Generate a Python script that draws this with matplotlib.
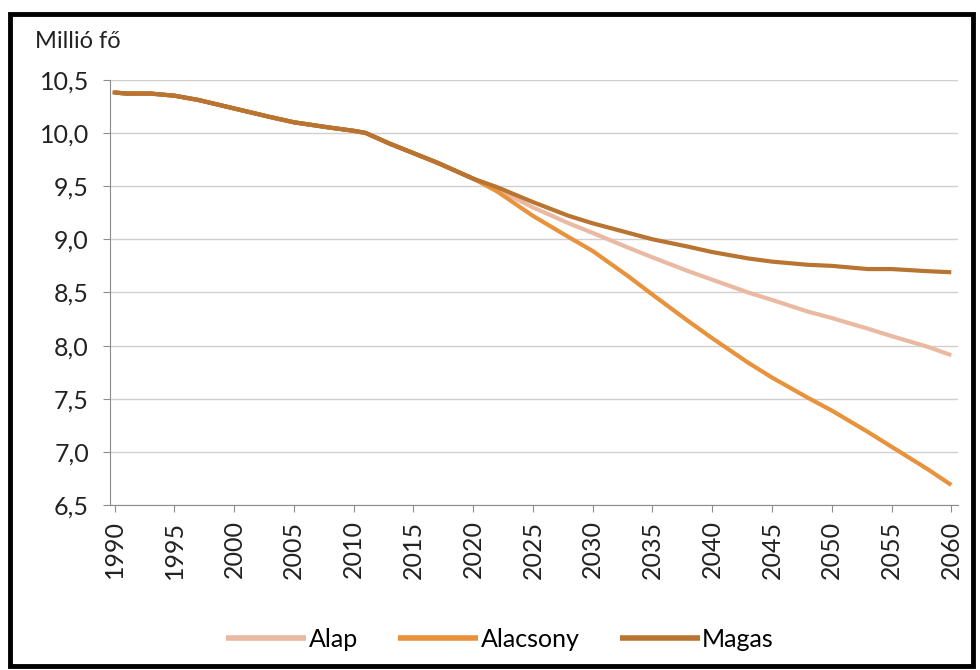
import matplotlib
matplotlib.use("Agg")
import matplotlib.pyplot as plt
from matplotlib.patches import Rectangle
from matplotlib.ticker import FuncFormatter

plt.rcParams["font.family"] = ["Lato", "DejaVu Sans"]

# common history 1990-2020
hist_years = [1990, 1991, 1993, 1995, 1997, 2000, 2003, 2005, 2008, 2010, 2011, 2013, 2015, 2017, 2020]
hist_vals = [10.38, 10.37, 10.37, 10.35, 10.31, 10.23, 10.15, 10.10, 10.05, 10.02, 10.00, 9.90, 9.81, 9.72, 9.57]

proj_years = [2020, 2022, 2025, 2028, 2030, 2033, 2035, 2038, 2040, 2043, 2045, 2048, 2050, 2053, 2055, 2058, 2060]
alap = [9.57, 9.47, 9.30, 9.15, 9.06, 8.92, 8.83, 8.70, 8.62, 8.50, 8.43, 8.32, 8.26, 8.16, 8.09, 7.99, 7.91]
alacsony = [9.57, 9.45, 9.22, 9.02, 8.89, 8.65, 8.48, 8.23, 8.07, 7.84, 7.70, 7.51, 7.39, 7.19, 7.05, 6.84, 6.69]
magas = [9.57, 9.49, 9.35, 9.22, 9.15, 9.06, 9.00, 8.93, 8.88, 8.82, 8.79, 8.76, 8.75, 8.72, 8.72, 8.70, 8.69]

series = [("Alap", alap, "#EAB9A2"), ("Alacsony", alacsony, "#E8923B"), ("Magas", magas, "#B87430")]
year_ticks = list(range(1990, 2061, 5))

fig = plt.figure(figsize=(9.8, 6.7), dpi=100)
ax = fig.add_axes([0.112, 0.246, 0.866, 0.635])

for name, vals, col in series:
    ax.plot(hist_years + proj_years[1:], hist_vals + vals[1:], color=col, lw=3.0, label=name,
            solid_capstyle="butt")
# history drawn on top in the brown colour
ax.plot(hist_years, hist_vals, color="#B87430", lw=3.0)

ax.set_xlim(1989.6, 2060.6)
ax.set_ylim(6.5, 10.5)
ax.set_yticks([6.5 + 0.5 * i for i in range(9)])
ax.yaxis.set_major_formatter(FuncFormatter(lambda v, p: f"{v:.1f}".replace(".", ",")))
ax.set_xticks(year_ticks)
ax.set_xticklabels([str(y) for y in year_ticks], rotation=90)
ax.grid(axis="y", color="#D0D0D0", lw=1.0)
ax.set_axisbelow(True)
for s in ["top", "right"]:
    ax.spines[s].set_visible(False)
for s in ["left", "bottom"]:
    ax.spines[s].set_color("#8C8C8C")
ax.tick_params(axis="both", colors="#8C8C8C", labelcolor="#222222", labelsize=18, length=5)
ax.tick_params(axis="y", pad=10)
ax.tick_params(axis="x", pad=6)

fig.text(0.036, 0.928, "Millió fő", fontsize=17, color="#222222")

leg = ax.legend(loc="lower center", bbox_to_anchor=(0.46, -0.395), ncol=3, frameon=False, fontsize=18,
                handlelength=3.2, handletextpad=0.1, columnspacing=1.6)
for h in leg.get_lines():
    h.set_linewidth(4)

fig.patches.append(Rectangle((0.01, 0.006), 0.983, 0.973, transform=fig.transFigure,
                             fill=False, edgecolor="black", lw=3.5))

fig.savefig("out.png", dpi=100)
